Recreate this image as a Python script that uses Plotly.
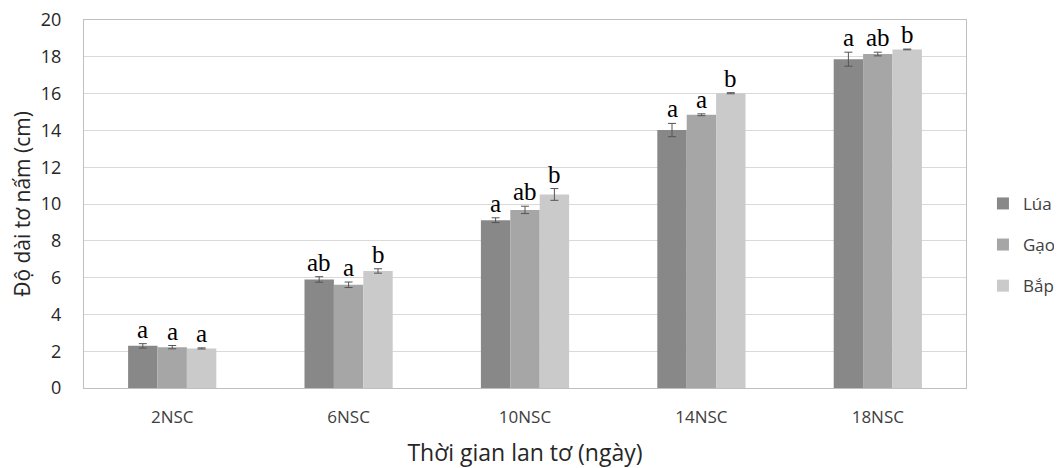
import plotly.graph_objects as go

categories = ["2NSC", "6NSC", "10NSC", "14NSC", "18NSC"]
series_names = ["Lúa", "Gạo", "Bắp"]
lua = [2.29, 5.90, 9.12, 14.02, 17.87]
gao = [2.22, 5.61, 9.68, 14.85, 18.15]
bap = [2.15, 6.36, 10.52, 16.02, 18.40]
lua_err = [0.12, 0.15, 0.13, 0.36, 0.38]
gao_err = [0.09, 0.15, 0.20, 0.05, 0.10]
bap_err = [0.03, 0.12, 0.32, 0.03, 0.02]
lua_sig = ["a", "ab", "a", "a", "a"]
gao_sig = ["a", "a", "ab", "a", "ab"]
bap_sig = ["a", "b", "b", "b", "b"]
y_ticks = [0, 2, 4, 6, 8, 10, 12, 14, 16, 18, 20]

colors = ["#888888", "#a6a6a6", "#cacaca"]
values = [lua, gao, bap]
errors = [lua_err, gao_err, bap_err]
sigs = [lua_sig, gao_sig, bap_sig]

bargap = 0.5
bar_w = (1 - bargap) / 3

fig = go.Figure()
for k, name in enumerate(series_names):
    fig.add_trace(go.Bar(
        x=categories, y=values[k], name=name,
        marker=dict(color=colors[k], line=dict(width=0)),
        error_y=dict(type="data", array=errors[k], visible=True,
                     color="#555555", thickness=1, width=4),
        legendgroup=name,
    ))

annotations = []
for k in range(3):
    for i, cat in enumerate(categories):
        annotations.append(dict(
            x=i + (k - 1) * bar_w, y=values[k][i] + errors[k][i],
            xref="x", yref="y", text=sigs[k][i], showarrow=False,
            yanchor="bottom", yshift=-1,
            font=dict(family="Liberation Serif", size=25, color="#000000"),
        ))

fig.update_layout(
    width=1054, height=460,
    margin=dict(l=76, r=96, t=12, b=80),
    paper_bgcolor="white", plot_bgcolor="white",
    barmode="group", bargap=bargap, bargroupgap=0,
    font=dict(family="Open Sans", color="#404040"),
    legend=dict(xref="container", yref="container", x=0.925, y=0.485,
                xanchor="left", yanchor="middle",
                font=dict(size=17, color="#404040"), tracegroupgap=16,
                itemwidth=30),
    annotations=annotations,
    xaxis=dict(
        showline=True, linecolor="#bfbfbf", linewidth=1, mirror=True,
        tickfont=dict(size=17, color="#404040"), ticks="",
        ticklabelstandoff=14, automargin=False,
        title=dict(text="Thời gian lan tơ (ngày)", font=dict(size=23, color="#262626"),
                   standoff=18),
    ),
    yaxis=dict(
        range=[0, 20], tickvals=y_ticks, showgrid=True, gridcolor="#d9d9d9",
        showline=True, linecolor="#bfbfbf", linewidth=1, mirror=True,
        tickfont=dict(size=18, color="#262626"), ticks="",
        ticklabelstandoff=18, zeroline=False, automargin=False,
        ticklabeloverflow="allow",
        title=dict(text="Độ dài tơ nấm (cm)", font=dict(size=21, color="#262626"),
                   standoff=10),
    ),
)

fig.write_html("out.html")
